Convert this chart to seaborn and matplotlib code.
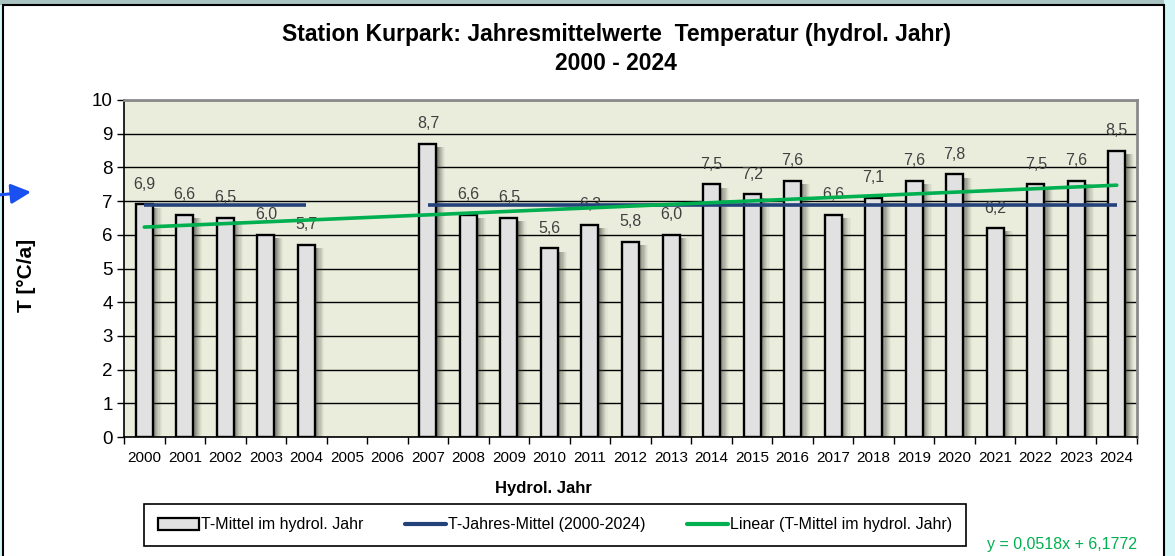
import numpy as np
import pandas as pd
import matplotlib
matplotlib.use("Agg")
import matplotlib.pyplot as plt
from matplotlib import font_manager
from matplotlib.patches import Rectangle, Patch, FancyArrowPatch
from matplotlib.lines import Line2D
import seaborn as sns

# ---- Daten ----
years = [str(y) for y in range(2000, 2025)]
t_mittel = [6.9, 6.6, 6.5, 6.0, 5.7, np.nan, np.nan, 8.7, 6.6, 6.5, 5.6, 6.3, 5.8,
            6.0, 7.5, 7.2, 7.6, 6.6, 7.1, 7.6, 7.8, 6.2, 7.5, 7.6, 8.5]
mean_segments = [("2000", "2004"), ("2007", "2024")]
trend_slope = 0.0518
trend_icept = 6.1772
legend_labels = ["T-Mittel im hydrol. Jahr", "T-Jahres-Mittel (2000-2024)",
                 "Linear (T-Mittel im hydrol. Jahr)"]

df = pd.DataFrame({"Jahr": years, "T": t_mittel})
t_mean = np.nanmean(t_mittel)

# ---- Schriften ----
avail = {f.name for f in font_manager.fontManager.ttflist}
narrow = "Liberation Sans Narrow" if "Liberation Sans Narrow" in avail else "Liberation Sans"

sns.set_style("white")
plt.rcParams["font.family"] = ["Liberation Sans", "DejaVu Sans"]
plt.rcParams["text.color"] = "black"
plt.rcParams["xtick.color"] = "black"
plt.rcParams["ytick.color"] = "black"

W, H = 1175, 556
fig = plt.figure(figsize=(W / 100, H / 100), dpi=100, facecolor="#d3f6f9")

# weisses Panel mit Rahmen + Streifen oben
fig.patches.append(Rectangle((0, 1 - 5 / H), 1164 / W, 5 / H, transform=fig.transFigure,
                             facecolor="#a9c2c2", edgecolor="none", zorder=-2))
fig.patches.append(Rectangle((3 / W, -0.01), 1161 / W, 1 - 5 / H + 0.01, transform=fig.transFigure,
                             facecolor="white", edgecolor="black", lw=1.5, zorder=-1))

ax = fig.add_axes([124 / W, 1 - 437 / H, (1137 - 124) / W, (437 - 100) / H])
ax.set_zorder(1)
ax.set_facecolor("#eaeddc")

sns.barplot(data=df, x="Jahr", y="T", order=years, color="#e1e1e1", edgecolor="black",
            linewidth=1.7, width=0.42, saturation=1, errorbar=None, ax=ax, zorder=3)

# Schatten rechts neben den Saeulen
bars = [p for p in ax.patches if np.isfinite(p.get_height()) and p.get_height() > 0]
for p in bars:
    x0 = p.get_x() + p.get_width()
    h = p.get_height()
    for k in range(8):
        ax.add_patch(Rectangle((x0 + k * 0.028, 0), 0.028, h - 0.1, facecolor="#33332a",
                               edgecolor="none", alpha=0.6 * (1 - k / 8) ** 1.3, zorder=2))

# Datenbeschriftung
lab = [f"{v:.1f}".replace(".", ",") for v in df["T"].dropna()]
texts = ax.bar_label(ax.containers[0], labels=lab, padding=9, fontsize=11.5,
                     color="#404040", family=narrow)
for t in texts:
    t.set_zorder(3.5)

# Mittelwert-Linie
for a, b in mean_segments:
    ax.plot([years.index(a), years.index(b)], [t_mean, t_mean], color="#24427a", lw=2.6,
            solid_capstyle="butt", zorder=5)

# Trendlinie (Excel: x = 1..25)
xi = np.array([0, len(years) - 1])
ax.plot(xi, trend_slope * (xi + 1) + trend_icept, color="#00b050", lw=2.6, zorder=6)

# Achsen
ax.set_xlim(-0.5, len(years) - 0.5)
ax.set_ylim(0, 10)
ax.set_yticks(range(0, 11))
ax.yaxis.grid(True, color="black", lw=1)
ax.set_axisbelow(True)
ax.set_xlabel("")
ax.set_ylabel("")
ax.tick_params(axis="y", labelsize=13.5, length=5, width=1, direction="out", left=True, pad=3)
ax.tick_params(axis="x", labelsize=11, length=0, pad=10)
ax.set_xticks(np.arange(-0.5, len(years)), minor=True)
ax.tick_params(axis="x", which="minor", length=5, width=1, direction="out", bottom=True)
for s in ["top", "right"]:
    ax.spines[s].set_color("#8a8a8a")
    ax.spines[s].set_linewidth(2)
for s in ["left", "bottom"]:
    ax.spines[s].set_color("black")
    ax.spines[s].set_linewidth(1.2)

# Texte
fig.text(616 / W, 1 - 35 / H, "Station Kurpark: Jahresmittelwerte  Temperatur (hydrol. Jahr)",
         ha="center", va="center", fontsize=16.5, fontweight="bold")
fig.text(616 / W, 1 - 64 / H, "2000 - 2024", ha="center", va="center", fontsize=16.5,
         fontweight="bold")
fig.text(26 / W, 1 - 275 / H, "T [°C/a]", rotation=90, ha="center", va="center",
         fontsize=15, fontweight="bold")
fig.text(543 / W, 1 - 488 / H, "Hydrol. Jahr", ha="center", va="center", fontsize=12,
         fontweight="bold")
fig.text(1137 / W, 1 - 545 / H, "y = 0,0518x + 6,1772", ha="right", va="center",
         fontsize=11.5, color="#00b050", zorder=5)

# Legende
handles = [Patch(facecolor="#e1e1e1", edgecolor="black", lw=1.6),
           Line2D([], [], color="#24427a", lw=3),
           Line2D([], [], color="#00b050", lw=3)]
leg = fig.legend(handles, legend_labels, loc="center", bbox_to_anchor=(555 / W, 1 - 525 / H),
                 ncol=3, frameon=True, fancybox=False, edgecolor="black", framealpha=1,
                 prop={"size": 11.5}, handlelength=2.6, handletextpad=0.1,
                 columnspacing=2.6, borderpad=0.85)
leg.get_frame().set_linewidth(1.2)

# Pfeil links
fig.add_artist(FancyArrowPatch((-2 / W, 1 - 195 / H), (31 / W, 1 - 192 / H),
               transform=fig.transFigure, arrowstyle="-|>", mutation_scale=30,
               shrinkA=0, shrinkB=0, color="#1a50f0", lw=2.2))

fig.savefig("out.png", dpi=100, facecolor=fig.get_facecolor())
